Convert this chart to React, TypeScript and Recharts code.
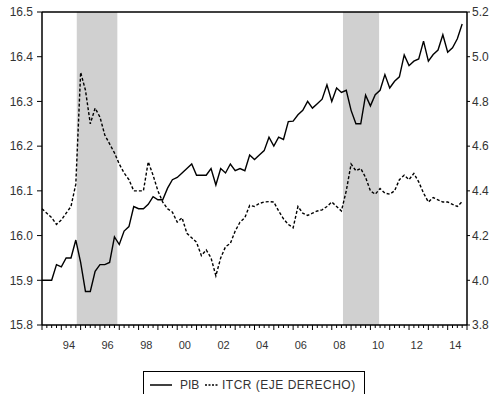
import React from "react";
import { ComposedChart, Line, XAxis, YAxis, ReferenceArea, ReferenceLine } from "recharts";

// quarterly, 1993Q1 .. 2014Q4
const START_YEAR = 1993;

const PIB = [
  15.9, 15.9, 15.9, 15.935, 15.93, 15.95, 15.95, 15.99, 15.94, 15.875,
  15.875, 15.92, 15.935, 15.935, 15.94, 15.997, 15.98, 16.01, 16.02, 16.065,
  16.06, 16.06, 16.07, 16.087, 16.08, 16.08, 16.106, 16.125, 16.13, 16.14,
  16.15, 16.16, 16.135, 16.135, 16.135, 16.15, 16.113, 16.15, 16.14, 16.16,
  16.145, 16.15, 16.145, 16.18, 16.17, 16.18, 16.19, 16.22, 16.2, 16.22,
  16.215, 16.255, 16.256, 16.27, 16.28, 16.3, 16.285, 16.295, 16.305, 16.337,
  16.3, 16.33, 16.32, 16.325, 16.28, 16.25, 16.25, 16.314, 16.29, 16.315,
  16.325, 16.36, 16.33, 16.345, 16.355, 16.404, 16.38, 16.39, 16.395, 16.435,
  16.39, 16.405, 16.415, 16.449, 16.41, 16.42, 16.44, 16.473,
];

const ITCR = [
  4.32, 4.3, 4.28, 4.25, 4.27, 4.3, 4.33, 4.43, 4.93, 4.85,
  4.7, 4.77, 4.73, 4.65, 4.61, 4.57, 4.52, 4.48, 4.45, 4.4,
  4.4, 4.4, 4.53, 4.47, 4.4, 4.35, 4.32, 4.305, 4.26, 4.28,
  4.21, 4.19, 4.17, 4.11, 4.136, 4.1, 4.02, 4.1, 4.15, 4.165,
  4.22, 4.26, 4.28, 4.335, 4.33, 4.344, 4.35, 4.352, 4.35, 4.31,
  4.275, 4.25, 4.235, 4.33, 4.3, 4.29, 4.3, 4.31, 4.315, 4.33,
  4.35, 4.33, 4.31, 4.4, 4.52, 4.49, 4.5, 4.46, 4.4, 4.385,
  4.41, 4.39, 4.385, 4.4, 4.45, 4.47, 4.45, 4.478, 4.44, 4.39,
  4.35, 4.37, 4.36, 4.35, 4.35, 4.34, 4.33, 4.352,
];

// shaded periods (in years)
const SHADED = [
  [1994.8, 1996.9],
  [2008.58, 2010.45],
];

const LEFT_TICKS = [15.8, 15.9, 16.0, 16.1, 16.2, 16.3, 16.4, 16.5];
const RIGHT_TICKS = [3.8, 4.0, 4.2, 4.4, 4.6, 4.8, 5.0, 5.2];
const YEAR_LABELS = [
  { year: 1994, label: "94" },
  { year: 1996, label: "96" },
  { year: 1998, label: "98" },
  { year: 2000, label: "00" },
  { year: 2002, label: "02" },
  { year: 2004, label: "04" },
  { year: 2006, label: "06" },
  { year: 2008, label: "08" },
  { year: 2010, label: "10" },
  { year: 2012, label: "12" },
  { year: 2014, label: "14" },
];

const data = PIB.map((v, i) => ({
  t: START_YEAR + i / 4,
  pib: v,
  itcr: ITCR[i],
}));

const END_YEAR = 2015;
const quarterTicks: number[] = [];
for (let q = START_YEAR * 4; q <= END_YEAR * 4; q++) quarterTicks.push(q / 4);

const FONT = "'Liberation Sans', Arial, sans-serif";

function XTick(props: any) {
  const { x, y, payload } = props;
  const v: number = payload.value;
  const isYear = Math.abs(v - Math.round(v)) < 1e-6;
  const lab = YEAR_LABELS.find((l) => Math.abs(l.year + 0.5 - v) < 1e-6);
  return (
    <g>
      <line x1={x} x2={x} y1={y} y2={y + (isYear ? 5 : 3)} stroke="#000" strokeWidth={1} />
      {lab && (
        <text x={x - 2} y={y + 24} textAnchor="middle" fontSize={11} fontFamily={FONT} fill="#333">
          {lab.label}
        </text>
      )}
    </g>
  );
}

export default function App() {
  return (
    <div
      style={{
        position: "absolute",
        left: 0,
        top: 0,
        width: 492,
        height: 394,
        overflow: "hidden",
        background: "#fff",
      }}
    >
      <ComposedChart
        width={492}
        height={394}
        data={data}
        margin={{ top: 12, right: 0, left: 0, bottom: 39 }}
      >
        <XAxis
          dataKey="t"
          type="number"
          domain={[START_YEAR, END_YEAR]}
          ticks={quarterTicks}
          interval={0}
          tick={<XTick />}
          tickLine={false}
          tickSize={0}
          tickMargin={0}
          height={30}
          axisLine={{ stroke: "#000", strokeWidth: 1.5 }}
        />
        <YAxis
          yAxisId="left"
          domain={[15.8, 16.5]}
          ticks={LEFT_TICKS}
          interval={0}
          width={42}
          tickSize={5}
          tickMargin={4}
          tickFormatter={(v: number) => v.toFixed(1)}
          tick={{ fontSize: 12, fill: "#333", fontFamily: FONT }}
          tickLine={{ stroke: "#000" }}
          axisLine={{ stroke: "#000", strokeWidth: 1.5 }}
        />
        <YAxis
          yAxisId="right"
          orientation="right"
          domain={[3.8, 5.2]}
          ticks={RIGHT_TICKS}
          interval={0}
          width={25}
          tickSize={3}
          tickMargin={2}
          tickFormatter={(v: number) => v.toFixed(1)}
          tick={{ fontSize: 12, fill: "#333", fontFamily: FONT }}
          tickLine={{ stroke: "#000" }}
          axisLine={{ stroke: "#000", strokeWidth: 1.5 }}
        />
        {SHADED.map(([a, b]) => (
          <ReferenceArea
            key={a}
            yAxisId="left"
            x1={a}
            x2={b}
            fill="#d0d0d0"
            fillOpacity={1}
            stroke="none"
          />
        ))}
        <ReferenceLine yAxisId="left" y={16.5} stroke="#000" strokeWidth={1.5} />
        <Line
          yAxisId="left"
          dataKey="pib"
          type="linear"
          stroke="#000"
          strokeWidth={1.4}
          dot={false}
          isAnimationActive={false}
        />
        <Line
          yAxisId="right"
          dataKey="itcr"
          type="linear"
          stroke="#000"
          strokeWidth={1.4}
          strokeDasharray="3 2"
          dot={false}
          isAnimationActive={false}
        />
      </ComposedChart>
      <div
        style={{
          position: "absolute",
          left: 143,
          top: 371,
          width: 222,
          height: 30,
          border: "1px solid #000",
          boxSizing: "border-box",
        }}
      >
        <svg width={222} height={30} style={{ position: "absolute", left: -1, top: -1 }}>
          <line x1={7} x2={29} y1={14} y2={14} stroke="#000" strokeWidth={1.5} />
          <text x={37} y={18} fontSize={12} fontFamily={FONT} fill="#333">
            PIB
          </text>
          <line x1={62} x2={75} y1={14} y2={14} stroke="#000" strokeWidth={1.4} strokeDasharray="2 1.5" />
          <text x={79} y={18} fontSize={12} fontFamily={FONT} fill="#333" letterSpacing={0.5}>
            ITCR (EJE DERECHO)
          </text>
        </svg>
      </div>
    </div>
  );
}
